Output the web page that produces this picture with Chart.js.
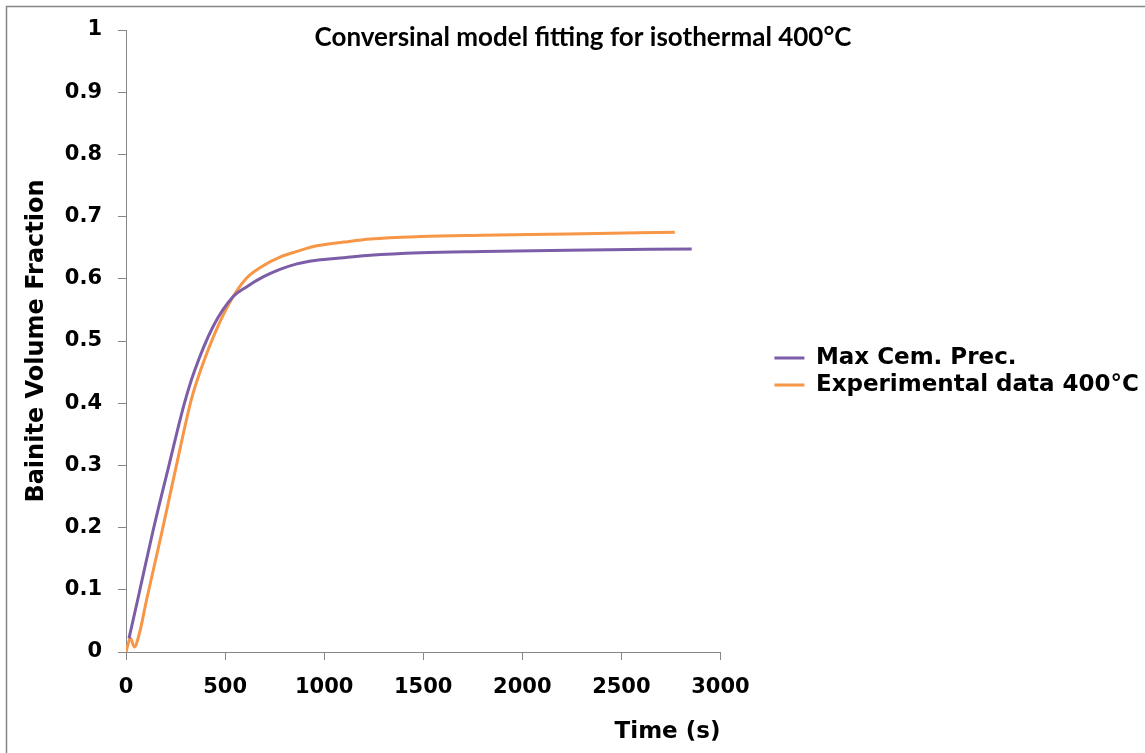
<!DOCTYPE html>
<html>
<head>
<meta charset="utf-8">
<script src="https://cdn.jsdelivr.net/npm/chart.js@4.4.1/dist/chart.umd.min.js"></script>
<style>
  html, body { margin: 0; padding: 0; background: #ffffff; }
  #contenedor { width: 1145px; height: 753px; }
</style>
</head>
<body>
<div id="contenedor"><canvas id="grafBainita" width="1145" height="753"></canvas></div>
<script>
const titulo = 'Conversinal model fitting for isothermal 400°C';
const nombresSeries = ['Max Cem. Prec.', 'Experimental data 400°C'];

// modelo (Max Cem. Prec.)
const tiempoModelo = [15, 59, 135, 219, 295, 346, 439, 540, 608, 692, 777, 862, 963, 1100, 1233, 1487, 1800, 2230, 2855];
const fraccionModelo = [0.022, 0.084, 0.193, 0.303, 0.400, 0.452, 0.523, 0.571, 0.587, 0.603, 0.615, 0.624, 0.630, 0.634, 0.638, 0.642, 0.644, 0.646, 0.648];

// datos experimentales 400°C
const tiempoExp = [0, 22, 42, 67, 104, 180, 253, 329, 380, 456, 540, 608, 692, 777, 862, 963, 1100, 1233, 1487, 1800, 2230, 2770];
const fraccionExp = [0.000, 0.022, 0.008, 0.029, 0.084, 0.191, 0.298, 0.405, 0.456, 0.518, 0.571, 0.601, 0.621, 0.635, 0.644, 0.653, 0.659, 0.664, 0.668, 0.670, 0.672, 0.675];

const ticksX = [0, 500, 1000, 1500, 2000, 2500, 3000];
const ticksY = [0, 0.1, 0.2, 0.3, 0.4, 0.5, 0.6, 0.7, 0.8, 0.9, 1];

const fuente = "'DejaVu Sans', 'Liberation Sans', Arial, sans-serif";
const gris = '#868686';

const puntos = (xs, ys) => xs.map((x, i) => ({ x: x, y: ys[i] }));

// marco gris, titulo y posicion de la leyenda
const decorado = {
    id: 'decorado',
    afterLayout(chart) {
        const lg = chart.legend;
        const dx = chart.chartArea.right + 50 - lg.left;
        lg.left += dx;
        lg.right += dx;
        lg.top -= 20;
        lg.bottom -= 20;
    },
    beforeDraw(chart) {
        const ctx = chart.ctx;
        ctx.save();
        ctx.fillStyle = '#ffffff';
        ctx.fillRect(0, 0, chart.width, chart.height);
        ctx.strokeStyle = gris;
        ctx.lineWidth = 1.5;
        ctx.strokeRect(6.5, 6.5, chart.width + 20, chart.height + 20);
        ctx.restore();
    },
    afterDraw(chart) {
        const ctx = chart.ctx;
        ctx.save();
        ctx.font = "bold 26px Lato, 'Open Sans', sans-serif";
        ctx.fillStyle = '#000000';
        ctx.textAlign = 'center';
        ctx.textBaseline = 'middle';
        ctx.fillText(titulo, 583, 38);
        ctx.restore();
    }
};

const data = {
    datasets: [
        {
            label: nombresSeries[0],
            data: puntos(tiempoModelo, fraccionModelo),
            borderColor: '#7B5EA7',
            backgroundColor: '#7B5EA7',
            borderWidth: 3,
            pointRadius: 0,
            cubicInterpolationMode: 'monotone'
        },
        {
            label: nombresSeries[1],
            data: puntos(tiempoExp, fraccionExp),
            borderColor: '#F79646',
            backgroundColor: '#F79646',
            borderWidth: 3,
            pointRadius: 0,
            cubicInterpolationMode: 'monotone'
        }
    ]
};

const config = {
    type: 'line',
    data: data,
    plugins: [decorado],
    options: {
        responsive: false,
        animation: false,
        layout: { padding: { left: 6, top: 30, right: 46, bottom: 0 } },
        plugins: {
            legend: {
                position: 'right',
                maxWidth: 420,
                labels: {
                    color: '#000000',
                    font: { family: fuente, size: 23, weight: 'bold' },
                    usePointStyle: true,
                    pointStyle: 'line',
                    pointStyleWidth: 30,
                    padding: 4
                }
            },
            tooltip: { enabled: false }
        },
        scales: {
            x: {
                type: 'linear',
                min: 0,
                max: 3000,
                afterFit(axis) { axis.height = 101; },
                afterBuildTicks(axis) { axis.ticks = ticksX.map(v => ({ value: v })); },
                border: { display: true, color: gris, width: 1 },
                grid: { drawOnChartArea: false, drawTicks: true, tickLength: 8, color: gris },
                ticks: {
                    color: '#000000',
                    padding: 15,
                    maxRotation: 0,
                    font: { family: fuente, size: 21, weight: 'bold' },
                    callback: (v) => String(v)
                },
                title: {
                    display: true,
                    text: 'Time (s)',
                    align: 'end',
                    color: '#000000',
                    font: { family: fuente, size: 23, weight: 'bold' },
                    padding: { top: 0, bottom: 7 }
                }
            },
            y: {
                min: 0,
                max: 1,
                afterFit(axis) { axis.width = 120; },
                afterBuildTicks(axis) { axis.ticks = ticksY.map(v => ({ value: v })); },
                border: { display: true, color: gris, width: 1 },
                grid: { drawOnChartArea: false, drawTicks: true, tickLength: 8, color: gris },
                ticks: {
                    color: '#000000',
                    padding: 16,
                    font: { family: fuente, size: 21, weight: 'bold' },
                    callback: (v) => String(v)
                },
                title: {
                    display: true,
                    text: 'Bainite Volume Fraction',
                    color: '#000000',
                    font: { family: fuente, size: 24, weight: 'bold' },
                    padding: { top: 16, bottom: 0 }
                }
            }
        }
    }
};

const ctx = document.getElementById('grafBainita').getContext('2d');
new Chart(ctx, config);
</script>
</body>
</html>
